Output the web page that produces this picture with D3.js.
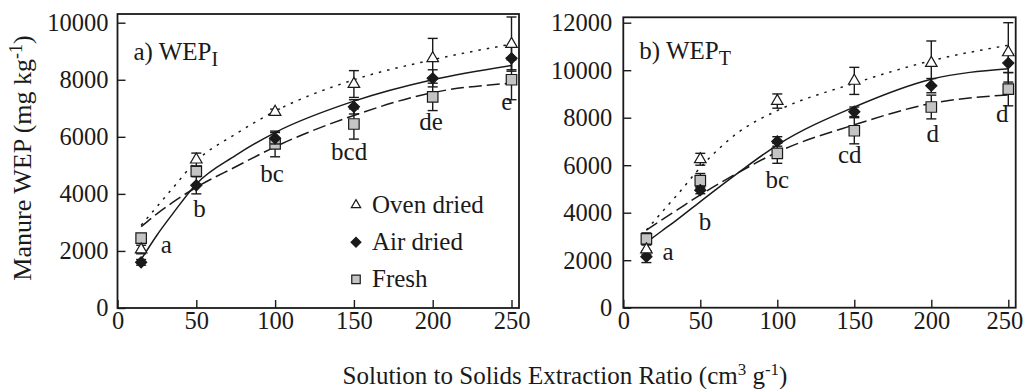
<!DOCTYPE html>
<html>
<head>
<meta charset="utf-8">
<script src="https://cdn.jsdelivr.net/npm/d3@7"></script>
<style>
  body { margin: 0; background: #fff; }
  svg { display: block; }
</style>
</head>
<body>
<div id="chart"></div>
<script>
// Extraction ratios (cm3 g-1)
const ratio = [15, 50, 100, 150, 200, 250];
const xTicks = [0, 50, 100, 150, 200, 250];

// a) WEP_I
const yTicksI = [0, 2000, 4000, 6000, 8000, 10000];
const wepIOven = [2050, 5200, 6870, 7850, 8750, 9250];
const wepIOvenSd = [150, 230, 100, 470, 700, 950];
const wepIAir = [1600, 4300, 5950, 7050, 8050, 8750];
const wepIAirSd = [100, 300, 200, 250, 300, 400];
const wepIFresh = [2450, 4800, 5750, 6450, 7400, 8000];
const wepIFreshSd = [150, 150, 450, 530, 480, 700];
const lettersI = ['a', 'b', 'bc', 'bcd', 'de', 'e'];
const letterXI = [31, 52, 98, 147, 199, 247];
const letterYI = [1920, 3180, 4430, 5190, 6250, 6950];

// b) WEP_T
const yTicksT = [0, 2000, 4000, 6000, 8000, 10000, 12000];
const wepTOven = [2450, 6250, 8700, 9550, 10300, 10750];
const wepTOvenSd = [200, 250, 300, 570, 930, 1250];
const wepTAir = [2150, 4950, 7000, 8250, 9350, 10300];
const wepTAirSd = [250, 150, 200, 200, 300, 400];
const wepTFresh = [2900, 5350, 6500, 7450, 8450, 9200];
const wepTFreshSd = [250, 300, 420, 550, 500, 700];
const lettersT = ['a', 'b', 'bc', 'cd', 'd', 'd'];
const letterXT = [29, 53, 100, 147, 201, 246];
const letterYT = [2010, 3270, 5030, 6080, 6990, 7830];

// fitted curves
const fitX = [15, 25, 35, 50, 75, 100, 150, 200, 250];
const fitIOven = [2900, 3550, 4200, 5150, 6100, 6900, 8000, 8700, 9250];
const fitIAir = [1700, 2550, 3300, 4350, 5350, 6150, 7250, 8000, 8500];
const fitIFresh = [2850, 3300, 3700, 4230, 4950, 5650, 6750, 7550, 7880];
const fitTOven = [3270, 4020, 4750, 5900, 7400, 8300, 9450, 10400, 11050];
const fitTAir = [2750, 3230, 3710, 4470, 5700, 6850, 8450, 9620, 10060];
const fitTFresh = [3270, 3700, 4120, 4750, 5700, 6550, 7700, 8600, 8960];

const legendNames = ['Oven dried', 'Air dried', 'Fresh'];

const W = 1026, H = 389;
const ink = '#1a1a1a';
const fs = 25;
const tickFs = 24.5;

const svg = d3.select('#chart').append('svg')
    .attr('width', W)
    .attr('height', H)
    .style('font-family', '"Liberation Serif", "Times New Roman", serif')
    .style('fill', ink);

svg.append('rect').attr('width', W).attr('height', H).attr('fill', '#fff');

const styles = {
    oven: { symbol: d3.symbolTriangle, size: 58, rotate: 0, fill: '#fff', dash: '2.5,6' },
    air: { symbol: d3.symbolSquare, size: 62, rotate: 45, fill: ink, dash: null },
    fresh: { symbol: d3.symbolSquare, size: 110, rotate: 0, fill: '#c4c4c4', dash: '13,5' }
};

function drawPanel(p) {
    const x = d3.scaleLinear().domain([0, 250]).range([p.x0, p.x1]);
    const y = d3.scaleLinear().domain([0, p.yMax]).range([p.y0, p.yTop]);
    const g = svg.append('g');

    // fitted lines
    const line = d3.line()
        .x((d, i) => x(fitX[i]))
        .y(d => y(d))
        .curve(d3.curveMonotoneX);

    p.series.forEach(s => {
        g.append('path')
            .datum(s.fit)
            .attr('d', line)
            .attr('fill', 'none')
            .attr('stroke', ink)
            .attr('stroke-width', 1.5)
            .attr('stroke-dasharray', styles[s.key].dash);
    });

    // error bars + markers (fresh first, oven on top)
    p.series.slice().reverse().forEach(s => {
        const st = styles[s.key];
        const eb = g.append('g').attr('stroke', ink).attr('stroke-width', 1.4);
        ratio.forEach((r, i) => {
            const cx = x(r);
            const lo = y(s.values[i] - s.sd[i]);
            const hi = y(s.values[i] + s.sd[i]);
            eb.append('line').attr('x1', cx).attr('x2', cx).attr('y1', lo).attr('y2', hi);
            eb.append('line').attr('x1', cx - 5).attr('x2', cx + 5).attr('y1', lo).attr('y2', lo);
            eb.append('line').attr('x1', cx - 5).attr('x2', cx + 5).attr('y1', hi).attr('y2', hi);
        });
        g.selectAll(null)
            .data(s.values)
            .enter().append('path')
            .attr('d', d3.symbol().type(st.symbol).size(st.size))
            .attr('transform', (d, i) => `translate(${x(ratio[i])},${y(d)}) rotate(${st.rotate})`)
            .attr('fill', st.fill)
            .attr('stroke', ink)
            .attr('stroke-width', 1.2);
    });

    // significance letters
    g.selectAll(null)
        .data(p.letters)
        .enter().append('text')
        .attr('x', (d, i) => x(p.letterX[i]))
        .attr('y', (d, i) => y(p.letterY[i]))
        .attr('text-anchor', 'middle')
        .attr('font-size', fs)
        .text(d => d);

    // frame
    g.append('rect')
        .attr('x', p.x0)
        .attr('y', p.frameTop)
        .attr('width', p.frameRight - p.x0)
        .attr('height', p.y0 - p.frameTop)
        .attr('fill', 'none')
        .attr('stroke', ink)
        .attr('stroke-width', 1.8);

    // axes, ticks pointing inward
    const yAxis = g.append('g')
        .attr('transform', `translate(${p.x0},0)`)
        .call(d3.axisLeft(y).tickValues(p.yTicks).tickFormat(d3.format('d'))
            .tickSizeInner(-8).tickSizeOuter(0).tickPadding(p.yPad));
    const xAxis = g.append('g')
        .attr('transform', `translate(0,${p.y0})`)
        .call(d3.axisBottom(x).tickValues(xTicks).tickFormat(d3.format('d'))
            .tickSizeInner(-8).tickSizeOuter(0).tickPadding(4));

    [xAxis, yAxis].forEach(a => {
        a.select('.domain').remove();
        a.selectAll('.tick line').attr('stroke', ink).attr('stroke-width', 1.4);
        a.selectAll('.tick text')
            .attr('fill', ink)
            .attr('font-size', tickFs)
            .attr('font-family', '"Liberation Serif", "Times New Roman", serif');
    });
    // last x label sits a little left of its tick, as in the original
    xAxis.selectAll('.tick text').filter(d => d === 250).attr('dx', p.lastDx);

    // panel title with subscript
    const t = g.append('text')
        .attr('x', p.x0 + 16)
        .attr('y', p.titleY)
        .attr('font-size', fs);
    t.append('tspan').text(p.title);
    t.append('tspan').attr('dy', 6).attr('font-size', 20).text(p.sub);

    return { x, y };
}

drawPanel({
    x0: 117.5, x1: 511.5, frameRight: 519,
    y0: 308, yTop: 22.7, frameTop: 14,
    yMax: 10000, yTicks: yTicksI, yPad: 9, lastDx: 0,
    title: 'a) WEP', sub: 'I', titleY: 60,
    letters: lettersI, letterX: letterXI, letterY: letterYI,
    series: [
        { key: 'oven', values: wepIOven, sd: wepIOvenSd, fit: fitIOven },
        { key: 'air', values: wepIAir, sd: wepIAirSd, fit: fitIAir },
        { key: 'fresh', values: wepIFresh, sd: wepIFreshSd, fit: fitIFresh }
    ]
});

drawPanel({
    x0: 623.3, x1: 1008.3, frameRight: 1015.7,
    y0: 307.7, yTop: 22.7, frameTop: 17.3,
    yMax: 12000, yTicks: yTicksT, yPad: 11, lastDx: -4,
    title: 'b) WEP', sub: 'T', titleY: 59,
    letters: lettersT, letterX: letterXT, letterY: letterYT,
    series: [
        { key: 'oven', values: wepTOven, sd: wepTOvenSd, fit: fitTOven },
        { key: 'air', values: wepTAir, sd: wepTAirSd, fit: fitTAir },
        { key: 'fresh', values: wepTFresh, sd: wepTFreshSd, fit: fitTFresh }
    ]
});

// legend (panel a)
const legendKeys = ['oven', 'air', 'fresh'];
const legendSizes = [38, 48, 72];
const legend = svg.append('g').attr('transform', 'translate(356,205)');
legendKeys.forEach((k, i) => {
    const st = styles[k];
    const row = legend.append('g').attr('transform', `translate(0,${i * 37.2})`);
    row.append('path')
        .attr('d', d3.symbol().type(st.symbol).size(legendSizes[i]))
        .attr('transform', `rotate(${st.rotate})`)
        .attr('fill', st.fill)
        .attr('stroke', ink)
        .attr('stroke-width', 1.2);
    row.append('text')
        .attr('x', 16)
        .attr('y', 8)
        .attr('font-size', fs)
        .text(legendNames[i]);
});

// axis titles
const yTitle = svg.append('text')
    .attr('transform', 'translate(31,158) rotate(-90)')
    .attr('text-anchor', 'middle')
    .attr('font-size', 26);
yTitle.append('tspan').text('Manure WEP (mg kg');
yTitle.append('tspan').attr('dy', -9).attr('font-size', 18).text('-1');
yTitle.append('tspan').attr('dy', 9).text(')');

const xTitle = svg.append('text')
    .attr('x', 565)
    .attr('y', 384)
    .attr('text-anchor', 'middle')
    .attr('font-size', fs);
xTitle.append('tspan').text('Solution to Solids Extraction Ratio (cm');
xTitle.append('tspan').attr('dy', -9).attr('font-size', 17).text('3');
xTitle.append('tspan').attr('dy', 9).text(' g');
xTitle.append('tspan').attr('dy', -9).attr('font-size', 17).text('-1');
xTitle.append('tspan').attr('dy', 9).text(')');
</script>
</body>
</html>
